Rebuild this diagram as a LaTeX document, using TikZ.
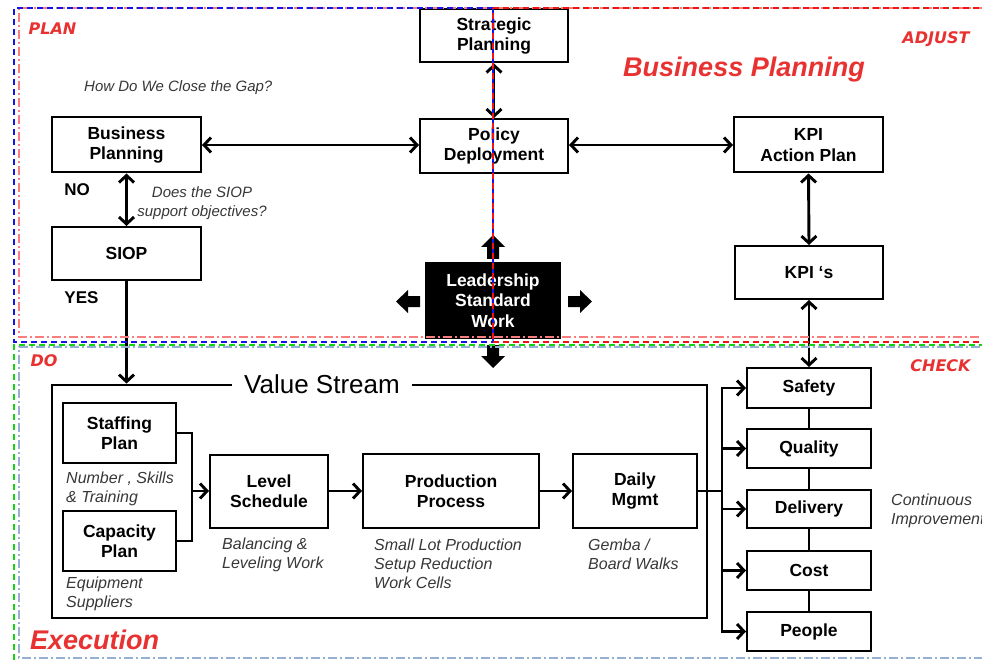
\documentclass[tikz,border=0pt]{standalone}
\usepackage{fontspec}
\setmainfont{Liberation Sans}
\newfontfamily\phasefont{DejaVu Sans}
\usetikzlibrary{arrows.meta}

\definecolor{labelred}{RGB}{232,50,50}
\definecolor{notegray}{RGB}{55,55,55}
\definecolor{planblue}{RGB}{20,20,230}
\definecolor{adjred}{RGB}{240,20,20}
\definecolor{bizpink}{RGB}{250,125,125}
\definecolor{dogreen}{RGB}{20,210,20}
\definecolor{exblue}{RGB}{150,175,215}

\begin{document}
\begin{tikzpicture}[x=1pt,y=-1pt,
  sz/.style 2 args={minimum width=#1pt, minimum height=#2pt},
  box/.style={draw, line width=2pt, fill=white, align=center, inner sep=0pt,
    font=\bfseries\fontsize{17.5}{20.5}\selectfont},
  darkbox/.style={box, fill=black, text=white},
  vsbox/.style={draw, line width=2.8pt},
  note/.style={font=\itshape\fontsize{16}{19}\selectfont, text=notegray,
    align=left, anchor=west, inner sep=0pt},
  smallnote/.style={note, font=\itshape\fontsize{15}{19}\selectfont},
  answer/.style={font=\bfseries\fontsize{17}{20}\selectfont, inner sep=0pt},
  phase/.style={font=\phasefont\bfseries\itshape\fontsize{16}{18}\selectfont, text=labelred, inner sep=0pt},
  area/.style={font=\bfseries\itshape\fontsize{27}{30}\selectfont, text=labelred, inner sep=0pt},
  conn/.style={line width=2.9pt, line join=miter},
  tipb/.tip={Straight Barb[length=7pt,width=15pt]},
  arr/.style={conn, -tipb},
  dbl/.style={conn, tipb-tipb},
  planline/.style={planblue, line width=1.6pt, dash pattern=on 6pt off 4pt},
  adjline/.style={adjred, line width=1.6pt, dash pattern=on 6pt off 4pt},
  bizline/.style={bizpink, line width=1.6pt, dash pattern=on 9pt off 3pt on 2pt off 3pt},
  doline/.style={dogreen, line width=1.6pt, dash pattern=on 6pt off 4pt},
  exline/.style={exblue, line width=1.6pt, dash pattern=on 9pt off 3pt on 2pt off 3pt}
]
\useasboundingbox (0,0) rectangle (982,660);

% ---------- planning level ----------
\node[box, sz={148}{53}] (strat)  at (494,36)    {Strategic\\Planning};
\node[box, sz={148}{54}] (policy) at (494,146)   {Policy\\Deployment};
\node[box, sz={149}{55}] (bp)     at (126.5,145) {Business\\Planning};
\node[box, sz={149}{55}] (kpiap)  at (808.5,145) {KPI\\Action Plan};
\node[box, sz={149}{53}] (siop)   at (126.5,253.5) {SIOP};
\node[box, sz={148}{53}] (kpis)   at (809,272.5) {KPI ‘s};
\node[darkbox, sz={134}{75}] (lsw) at (493,300.5) {Leadership\\Standard\\Work};

\draw[dbl] (strat.south) -- (policy.north);
\draw[dbl] (bp.east) -- (bp.east -| policy.west);
\draw[dbl] (kpiap.west -| policy.east) -- (kpiap.west);
\draw[dbl] (bp.south) -- (siop.north);
\draw[dbl] (kpiap.south) -- (kpis.north);

\node[smallnote] (gap) at (84,88) {How Do We Close the Gap?};
\node[smallnote, align=center, anchor=center] (supp) at (202,203) {Does the SIOP\\support objectives?};
\node[answer] (no)  at (77,190) {NO};
\node[answer] (yes) at (81.5,298) {YES};

% block arrows around the leadership box
\fill (493,235) -- (481,247) -- (487,247) -- (487,259) -- (499,259) -- (499,247) -- (505,247) -- cycle;
\fill (493,368) -- (481,356) -- (487,356) -- (487,345) -- (499,345) -- (499,356) -- (505,356) -- cycle;
\fill (396,301.5) -- (408,290) -- (408,296) -- (420,296) -- (420,307) -- (408,307) -- (408,313) -- cycle;
\fill (592,301.5) -- (580,290) -- (580,296) -- (568,296) -- (568,307) -- (580,307) -- (580,313) -- cycle;

% ---------- value stream ----------
\node[vsbox, sz={655}{233}] (vs) at (379.5,501.5) {};
\node[fill=white, inner xsep=12pt, inner ysep=2pt, font=\fontsize{26}{30}\selectfont] (vstitle) at (322,384) {Value Stream};
\draw[arr] (siop.south) -- (siop.south |- vs.north);

\node[box, sz={113}{60}] (staff) at (119.5,433) {Staffing\\Plan};
\node[box, sz={113}{60}] (cap)   at (119.5,541) {Capacity\\Plan};
\node[box, sz={118}{73}] (level) at (269,491)   {Level\\Schedule};
\node[box, sz={176}{74}] (prod)  at (451,491)   {Production\\Process};
\node[box, sz={124}{74}] (daily) at (635,491)   {Daily\\Mgmt};

\coordinate (brk) at (192,491);
\draw[conn] (staff.east) -- (staff.east -| brk) -- (cap.east -| brk) -- (cap.east);
\draw[arr] (brk) -- (level.west);
\draw[arr] (level.east) -- (prod.west);
\draw[arr] (prod.east) -- (daily.west);

\node[note] (nst) at (66,488.5) {Number , Skills\\\& Training};
\node[note] (neq) at (66,594)   {Equipment\\Suppliers};
\node[note] (nbl) at (222,554.5) {Balancing \&\\Leveling Work};
\node[note] (nsl) at (374,564)  {Small Lot Production\\Setup Reduction\\Work Cells};
\node[note] (ngb) at (588,554.5) {Gemba /\\Board Walks};

% ---------- check metrics ----------
\node[box, sz={124}{40}] (safety)   at (809,388)   {Safety};
\node[box, sz={124}{39}] (quality)  at (809,448.5) {Quality};
\node[box, sz={124}{38}] (delivery) at (809,509)   {Delivery};
\node[box, sz={124}{39}] (cost)     at (809,570.5) {Cost};
\node[box, sz={124}{39}] (people)   at (809,631.5) {People};

\draw[dbl] (kpis.south) -- (safety.north);
\draw[conn] (safety.south) -- (quality.north);
\draw[conn] (quality.south) -- (delivery.north);
\draw[conn] (delivery.south) -- (cost.north);
\draw[conn] (cost.south) -- (people.north);

\coordinate (bus) at (722,491);
\draw[conn] (daily.east) -- (bus);
\draw[conn, line cap=rect] (bus |- safety.west) -- (bus |- people.west);
\foreach \n in {safety,quality,delivery,cost,people}
  \draw[arr] (bus |- \n.west) -- (\n.west);

\node[note] (ci) at (891,511) {Continuous\\Improvement};

% ---------- titles ----------
\node[area] (tbiz) at (744,70) {Business Planning};
\node[area, anchor=west] (texe) at (30,640) {Execution};
\node[phase] (tplan) at (52.5,29) {PLAN};
\node[phase] (tadj)  at (936,39)  {ADJUST};
\node[phase] (tdo)   at (44,361)  {DO};
\node[phase] (tchk)  at (940.5,366) {CHECK};

% ---------- quadrant outlines ----------
\draw[bizline] (1000,8) -- (19,8) -- (19,337) -- (1000,337);
\draw[planline] (493,8) -- (14,8) -- (14,342) -- (493,342);
\draw[planline] (493,8) -- (493,342);
\draw[adjline, dash phase=5pt] (493,8) -- (493,342);
\draw[adjline] (493,8) -- (1000,8);
\draw[adjline] (493,342) -- (1000,342);
\draw[doline] (14,670) -- (14,345) -- (1000,345);
\draw[exline] (1000,658) -- (19,658) -- (19,347) -- (1000,347);
\end{tikzpicture}
\end{document}
